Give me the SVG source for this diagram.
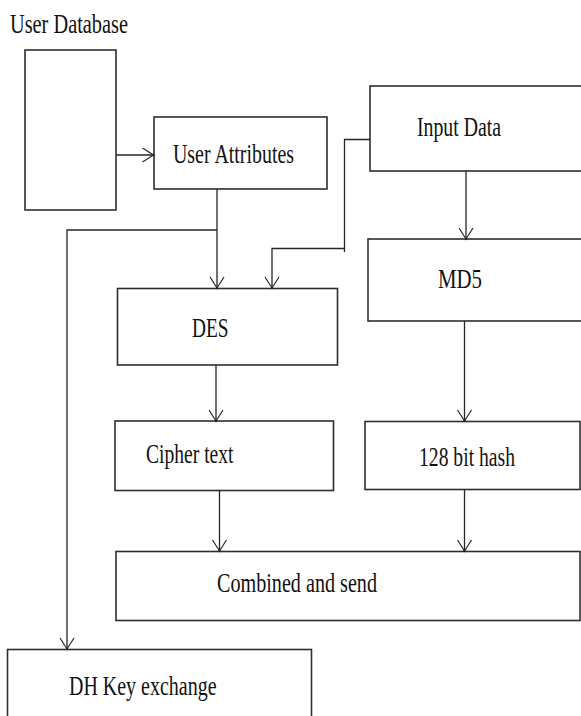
<svg xmlns="http://www.w3.org/2000/svg" width="581" height="716" viewBox="0 0 581 716">
  <style>
    .box { fill: #ffffff; stroke: #2e2e2e; stroke-width: 1.6; }
    .lbl { font-family: 'Liberation Serif', 'Times New Roman', serif; font-size: 28px; fill: #111111; }
    .wire { fill: none; stroke: #262626; stroke-width: 1.3; }
  </style>
  <defs>
    <!-- open V arrowhead, drawn in user units so every tip is the same size -->
    <marker id="vee" markerUnits="userSpaceOnUse" markerWidth="24" markerHeight="24" refX="0" refY="0" viewBox="-14 -12 16 24" orient="auto" overflow="visible">
      <path d="M-11,-7 L0,0 L-11,7" fill="none" stroke="#262626" stroke-width="1.2"/>
      <circle cx="0" cy="0" r="1.2" fill="#262626"/>
    </marker>
  </defs>
  <rect width="581" height="716" fill="#ffffff"/>

  <g id="user-database">
    <text class="lbl" x="10" y="33" textLength="118" lengthAdjust="spacingAndGlyphs">User Database</text>
    <rect class="box" x="25" y="50" width="91" height="160"/>
  </g>

  <g id="user-attributes">
    <rect class="box" x="154" y="117" width="173" height="72"/>
    <text class="lbl" x="173" y="163" textLength="121" lengthAdjust="spacingAndGlyphs">User Attributes</text>
  </g>

  <g id="input-data">
    <rect class="box" x="370" y="86" width="220" height="85"/>
    <text class="lbl" x="417" y="136" textLength="84" lengthAdjust="spacingAndGlyphs">Input Data</text>
  </g>

  <g id="md5">
    <rect class="box" x="368" y="239" width="222" height="82"/>
    <text class="lbl" x="438" y="288" textLength="44" lengthAdjust="spacingAndGlyphs">MD5</text>
  </g>

  <g id="des">
    <rect class="box" x="117.5" y="288.5" width="220" height="76.5"/>
    <text class="lbl" x="192" y="337" textLength="36.5" lengthAdjust="spacingAndGlyphs">DES</text>
  </g>

  <g id="cipher-text">
    <rect class="box" x="115" y="421" width="218.5" height="69.5"/>
    <text class="lbl" x="146" y="463" textLength="87.5" lengthAdjust="spacingAndGlyphs">Cipher text</text>
  </g>

  <g id="hash-128">
    <rect class="box" x="365" y="421.5" width="215" height="68"/>
    <text class="lbl" x="419" y="466" textLength="96" lengthAdjust="spacingAndGlyphs">128 bit hash</text>
  </g>

  <g id="combined-send">
    <rect class="box" x="116" y="551.5" width="464" height="69"/>
    <text class="lbl" x="217" y="592" textLength="160" lengthAdjust="spacingAndGlyphs">Combined and send</text>
  </g>

  <g id="dh-key-exchange">
    <rect class="box" x="7.5" y="649.5" width="304" height="80"/>
    <text class="lbl" x="69" y="695" textLength="147.5" lengthAdjust="spacingAndGlyphs">DH Key exchange</text>
  </g>

  <g id="connectors">
    <path class="wire" d="M116,155 H153.5" marker-end="url(#vee)"/>
    <path class="wire" d="M217,189 V288" marker-end="url(#vee)"/>
    <path class="wire" d="M217,230 H67 V649" marker-end="url(#vee)"/>
    <path class="wire" d="M370,139.5 H344.5 V252"/>
    <path class="wire" d="M344.5,248.5 H272 V288" marker-end="url(#vee)"/>
    <path class="wire" d="M466,171 V239" marker-end="url(#vee)"/>
    <path class="wire" d="M216,365 V421" marker-end="url(#vee)"/>
    <path class="wire" d="M464.5,321 V421" marker-end="url(#vee)"/>
    <path class="wire" d="M219.5,490.5 V551" marker-end="url(#vee)"/>
    <path class="wire" d="M464.5,489.5 V551" marker-end="url(#vee)"/>
  </g>
</svg>
